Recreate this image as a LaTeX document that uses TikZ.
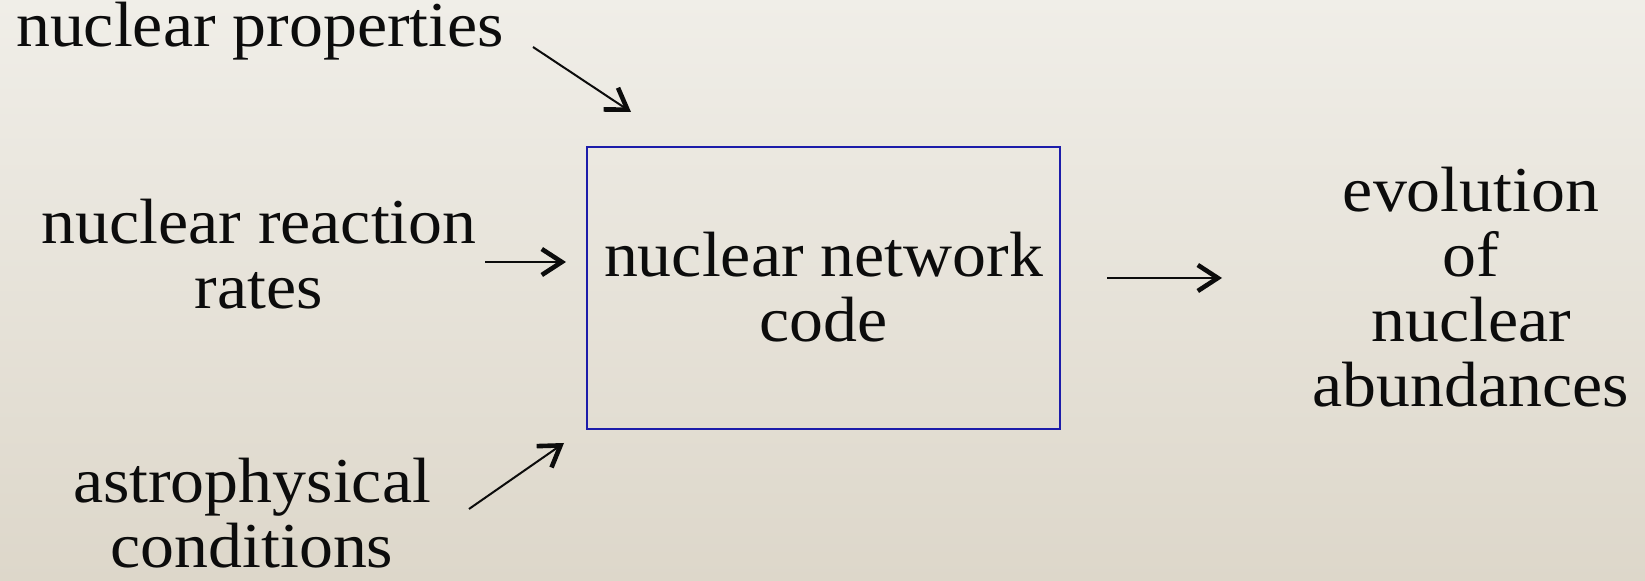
\documentclass[tikz,border=0pt]{standalone}
\usepackage{fontspec}
\setmainfont{Liberation Serif}[FakeStretch=1.06]
\usetikzlibrary{arrows.meta}
\definecolor{bgtop}{RGB}{240,238,232}
\definecolor{bgbot}{RGB}{221,215,202}
\definecolor{boxblue}{RGB}{28,28,170}
\definecolor{ink}{RGB}{12,12,12}
\tikzset{
  lbl/.style={font=\fontsize{32}{32.5}\selectfont, inner sep=0pt, align=center, text=ink, anchor=base},
  arr/.style={draw=ink, line width=1pt, -{Straight Barb[length=10pt,width=13pt,line width=2.3pt]}},
  netbox/.style={draw=boxblue, line width=1pt, inner sep=0pt, minimum width=236.5pt, minimum height=141pt}
}
\begin{document}
\begin{tikzpicture}[x=0.5pt,y=-0.5pt]
\shade[top color=bgtop, bottom color=bgbot] (0,0) rectangle (1645,581);
\useasboundingbox (0,0) rectangle (1645,581);

\node[netbox] (box) at (823.5,288) {};
\node[lbl] (code) at (823.5,342) {nuclear network\\code};

\node[lbl] (prop) at (260,47) {nuclear properties};
\node[lbl] (rates) at (259,309) {nuclear reaction\\rates};
\node[lbl] (astro) at (252,568) {astrophysical\\conditions};
\node[lbl] (evol) at (1471,407) {evolution\\of\\nuclear\\abundances};

\coordinate (a1s) at (533,47);
\coordinate (a1e) at (631,112);
\coordinate (a2s) at (485,262);
\coordinate (a2e) at (566,262);
\coordinate (a3s) at (1107,278);
\coordinate (a3e) at (1222,278);
\coordinate (a4s) at (469,509);
\coordinate (a4e) at (564,443);

\draw[arr] (a1s) -- (a1e);
\draw[arr] (a2s) -- (a2e);
\draw[arr] (a3s) -- (a3e);
\draw[arr] (a4s) -- (a4e);
\end{tikzpicture}
\end{document}
